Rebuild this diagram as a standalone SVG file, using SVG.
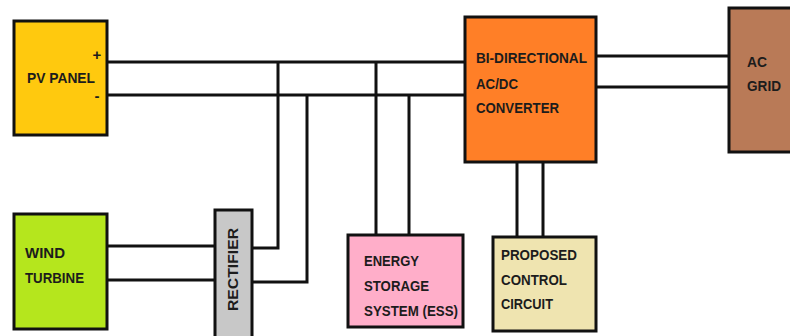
<svg xmlns="http://www.w3.org/2000/svg" width="790" height="336" viewBox="0 0 790 336">
<style>
.box{stroke:#111;stroke-width:3}
.wire{fill:none;stroke:#111;stroke-width:3}
.lbl{font-family:"Liberation Sans",Arial,sans-serif;font-weight:bold;font-size:15px;fill:#1c1c1c}
</style>
<rect width="790" height="336" fill="#fff"/>
<g id="connectors">
<path class="wire" d="M107 62H465M107 95H465"/>
<path class="wire" d="M108 246H215M108 280H215"/>
<path class="wire" d="M252 248H278V62M252 282H307V95"/>
<path class="wire" d="M376 62V235M409 95V235"/>
<path class="wire" d="M517 162V237M543 162V237"/>
<path class="wire" d="M596 56H729M596 87H729"/>
</g>
<g id="pv-panel">
<rect class="box" x="14" y="21" width="93" height="114" fill="#FFC90E"/>
<text class="lbl" x="27" y="83" textLength="68" lengthAdjust="spacingAndGlyphs">PV PANEL</text>
<text class="lbl" x="97" y="60" text-anchor="middle">+</text>
<text class="lbl" x="97" y="101" text-anchor="middle">-</text>
</g>
<g id="wind-turbine">
<rect class="box" x="14" y="214" width="93" height="115" fill="#B5E61D"/>
<text class="lbl" x="25" y="258" textLength="40" lengthAdjust="spacingAndGlyphs">WIND</text>
<text class="lbl" x="25" y="283" textLength="59" lengthAdjust="spacingAndGlyphs">TURBINE</text>
</g>
<g id="rectifier">
<rect class="box" x="215" y="210" width="37" height="130" fill="#C8C8C8"/>
<text class="lbl" transform="translate(238 311) rotate(-90)" font-size="13" textLength="83" lengthAdjust="spacingAndGlyphs">RECTIFIER</text>
</g>
<g id="converter">
<rect class="box" x="465" y="17" width="131" height="145" fill="#FF7F27"/>
<text class="lbl" x="476" y="63" textLength="111" lengthAdjust="spacingAndGlyphs">BI-DIRECTIONAL</text>
<text class="lbl" x="476" y="89" textLength="42" lengthAdjust="spacingAndGlyphs">AC/DC</text>
<text class="lbl" x="476" y="113" textLength="83" lengthAdjust="spacingAndGlyphs">CONVERTER</text>
</g>
<g id="ac-grid">
<rect class="box" x="729" y="8" width="70" height="144" fill="#B97A57"/>
<text class="lbl" x="747" y="67" textLength="20" lengthAdjust="spacingAndGlyphs">AC</text>
<text class="lbl" x="747" y="91" textLength="34" lengthAdjust="spacingAndGlyphs">GRID</text>
</g>
<g id="ess">
<rect class="box" x="348" y="235" width="115" height="92" fill="#FFAEC9"/>
<text class="lbl" x="364" y="266" textLength="55" lengthAdjust="spacingAndGlyphs">ENERGY</text>
<text class="lbl" x="364" y="291" textLength="65" lengthAdjust="spacingAndGlyphs">STORAGE</text>
<text class="lbl" x="364" y="316" textLength="94" lengthAdjust="spacingAndGlyphs">SYSTEM (ESS)</text>
</g>
<g id="control-circuit">
<rect class="box" x="493" y="237" width="103" height="94" fill="#EFE4B0"/>
<text class="lbl" x="501" y="260" textLength="76" lengthAdjust="spacingAndGlyphs">PROPOSED</text>
<text class="lbl" x="501" y="285" textLength="66" lengthAdjust="spacingAndGlyphs">CONTROL</text>
<text class="lbl" x="501" y="309" textLength="52" lengthAdjust="spacingAndGlyphs">CIRCUIT</text>
</g>
</svg>
